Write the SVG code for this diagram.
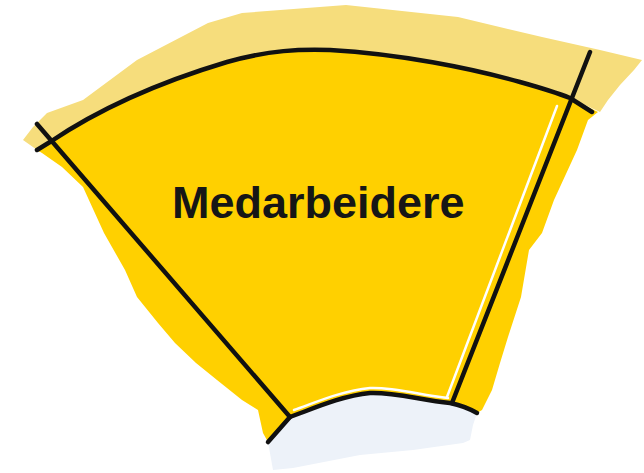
<svg xmlns="http://www.w3.org/2000/svg" width="644" height="473" viewBox="0 0 644 473">
  <style>
    .band { fill: #F6DD7C; }
    .main { fill: #FFD000; }
    .core { fill: #EDF2F9; }
    .line { fill: none; stroke: #111111; stroke-width: 4.5; stroke-linecap: round; stroke-linejoin: round; }
    .hl { fill: none; stroke: #FFFFFF; stroke-width: 2.5; stroke-linecap: round; }
    .label { font-family: "Liberation Sans", Arial, sans-serif; font-weight: bold; font-size: 45px; fill: #161616; }
  </style>
  <rect width="644" height="473" fill="#FFFFFF"/>
  <g id="outer-band">
    <polygon class="band" points="23,140 33,127 47,113 83,100 137,60 208,23 242,13 346,5 458,17 542,37 600,50 642,60 634,70 620,85 608,100 600,112 570,98 520,82 433,63 330,50 283,52 227,62 170,80 117,103 57,140 40,152"/>
  </g>
  <g id="medarbeidere">
    <path class="main" d="M37,150 L50,142 C90,115 150,85 227,62 C270,50 300,49 330,50 C400,54 470,68 520,82 C545,89 560,94 570,98 L598,112 L588,120 L577,150 L554,200 L542,233 L529,250 L521,297 L508,337 L500,363 L492,390 L482,410 L477,413 L450,403 L290,417 L268,442 L263,433 L258,410 L242,400 L217,380 L196,363 L175,343 L158,323 L137,297 L125,270 L104,233 L83,187 L62,167 L42,153 Z"/>
    <text class="label" x="172" y="218">Medarbeidere</text>
  </g>
  <g id="core">
    <path class="core" d="M268,442 L290,417 C310,410 340,396 370,393 C395,392 420,400 450,403 C460,405 470,409 477,413 L473,425 L470,440 L463,443 L413,450 L360,455 L293,468 L273,470 Z"/>
  </g>
  <g id="connectors">
    <line class="hl" x1="557" y1="106" x2="447" y2="397"/>
    <path class="hl" d="M294,410 C312,404 340,391 370,388 C395,387 420,395 448,398"/>
    <path class="line" d="M37,150 L50,142 C90,115 150,85 227,62 C270,50 300,49 330,50 C400,54 470,68 520,82 C545,89 560,94 570,98 L592,112"/>
    <line class="line" x1="37" y1="124" x2="290" y2="417"/>
    <line class="line" x1="590" y1="52" x2="452" y2="403"/>
    <path class="line" d="M268,442 L290,417 C310,410 340,396 370,393 C395,392 420,400 450,403 C460,405 470,409 477,413"/>
  </g>
</svg>
